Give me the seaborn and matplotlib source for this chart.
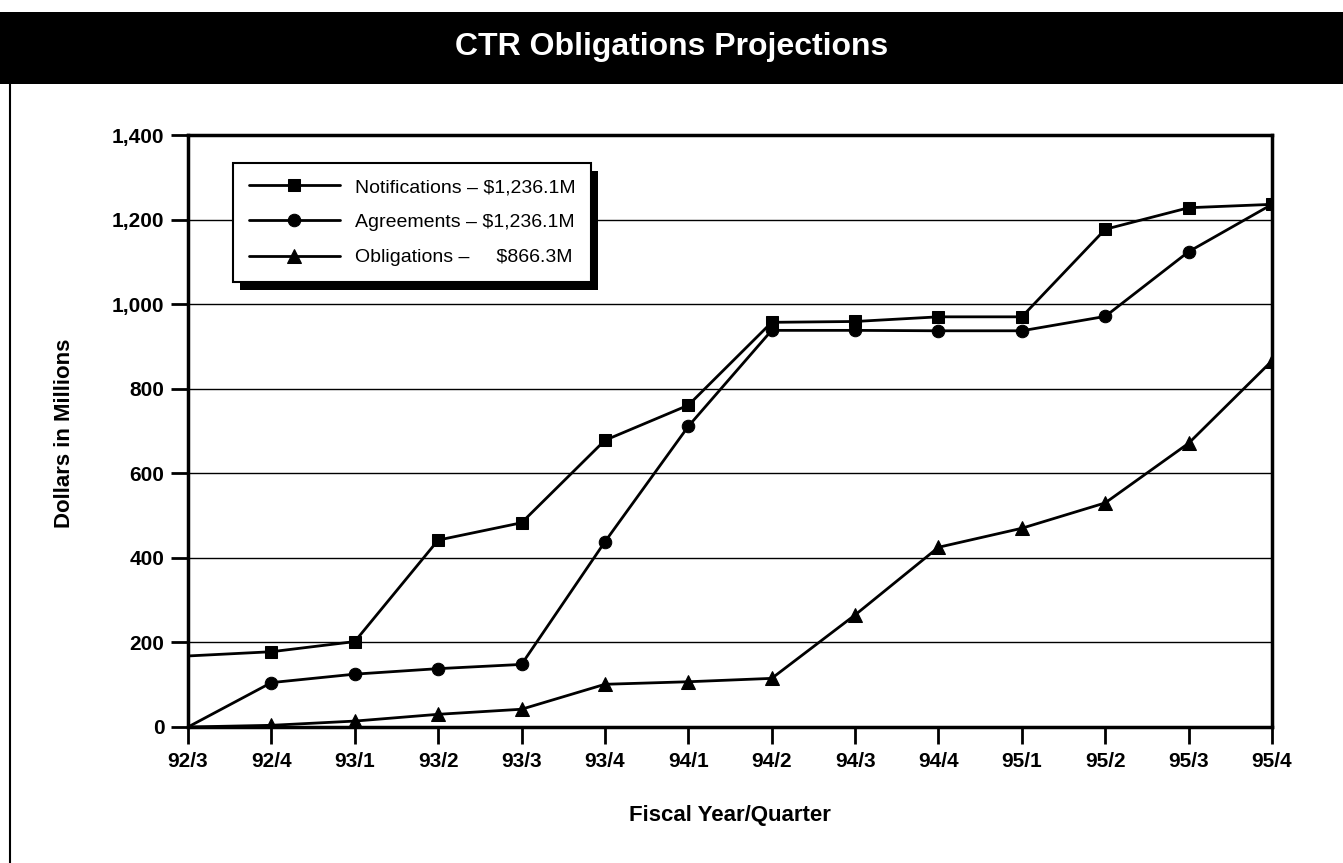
import numpy as np
import pandas as pd
import matplotlib
matplotlib.use("Agg")
import matplotlib.pyplot as plt
import seaborn as sns
from matplotlib.patches import Rectangle
from matplotlib.lines import Line2D

quarters = ["92/3", "92/4", "93/1", "93/2", "93/3", "93/4", "94/1",
            "94/2", "94/3", "94/4", "95/1", "95/2", "95/3", "95/4"]
notifications = [168, 178, 202, 442, 483, 678, 761, 957, 959, 970, 970, 1177, 1228, 1236]
agreements = [0, 105, 125, 138, 148, 438, 711, 938, 938, 937, 937, 971, 1124, 1236]
obligations = [0, 4, 14, 30, 42, 101, 107, 115, 265, 425, 470, 530, 671, 866]
series_names = ["Notifications", "Agreements", "Obligations"]
totals = ["$1,236.1M", "$1,236.1M", "    $866.3M"]
y_ticks = [0, 200, 400, 600, 800, 1000, 1200, 1400]

sns.set_style("white")
plt.rcParams["font.family"] = ["Liberation Sans", "DejaVu Sans"]
plt.rcParams["text.color"] = "black"
plt.rcParams["axes.labelcolor"] = "black"

W, H = 1343, 863
fig = plt.figure(figsize=(W / 100, H / 100), dpi=100)
fig.patch.set_facecolor("white")

# black title band + left border rule
fig.add_artist(Rectangle((0, 1 - 84 / H), 1, 72 / H, transform=fig.transFigure,
                         facecolor="black", edgecolor="none"))
fig.add_artist(Line2D([10 / W, 10 / W], [0, 1 - 84 / H], transform=fig.transFigure,
                      color="black", lw=1.5))
fig.text(0.5, 1 - 47 / H, "CTR Obligations Projections", color="white",
         fontsize=23, fontweight="bold", ha="center", va="center")

ax = fig.add_axes([188 / W, 1 - 727 / H, (1272 - 188) / W, (727 - 135) / H])

xpos = np.arange(len(quarters))
markers = ["s", "o", "^"]
for name, vals, mk, tot in zip(series_names, [notifications, agreements, obligations], markers, totals):
    sns.lineplot(x=xpos, y=vals, ax=ax, color="black", lw=2, marker=mk,
                 markersize=10 if mk == "^" else 9, markeredgecolor="black",
                 markevery=list(range(1, len(quarters))),
                 label=f"{name} \u2013 {tot}", zorder=3)

ax.set_xlim(0, len(quarters) - 1)
ax.set_ylim(0, 1400)
ax.set_xticks(xpos)
ax.set_xticklabels(quarters)
ax.set_yticks(y_ticks)
ax.set_yticklabels([f"{v:,}" for v in y_ticks])
ax.set_axisbelow(True)
ax.yaxis.grid(True, color="black", lw=1)
ax.xaxis.grid(False)
for s in ax.spines.values():
    s.set_color("black")
    s.set_linewidth(2.5)
ax.tick_params(axis="both", which="major", bottom=True, left=True, direction="out",
               length=12, width=2, color="black", labelcolor="black", labelsize=15)
ax.tick_params(axis="x", pad=6)
ax.tick_params(axis="y", pad=5)
for lab in ax.get_xticklabels() + ax.get_yticklabels():
    lab.set_fontweight("bold")

ax.set_xlabel("Fiscal Year/Quarter", fontsize=16, fontweight="bold", va="center")
ax.set_ylabel("Dollars in Millions", fontsize=16, fontweight="bold", va="center")
ax.xaxis.set_label_coords(0.5, (727 - 816) / 592)
ax.yaxis.set_label_coords((65 - 188) / 1084, (727 - 433) / 592)

leg = ax.legend(loc="upper left", bbox_to_anchor=((233 - 188) / 1084, (727 - 163) / 592),
                borderaxespad=0, frameon=True, fancybox=False, fontsize=14,
                handlelength=4.7, handletextpad=0.75, labelspacing=0.9, borderpad=0.8)
leg.get_frame().set_edgecolor("black")
leg.get_frame().set_linewidth(1.5)
leg.get_frame().set_alpha(1)
leg.set_zorder(6)

fig.canvas.draw()
bb = leg.get_window_extent().transformed(fig.transFigure.inverted())
dx, dy = 7 / W, 8 / H
ax.add_artist(Rectangle((bb.x0 + dx, bb.y0 - dy), bb.width, bb.height,
                        transform=fig.transFigure, facecolor="black",
                        edgecolor="none", zorder=5.5))

fig.savefig("out.png", dpi=100)
